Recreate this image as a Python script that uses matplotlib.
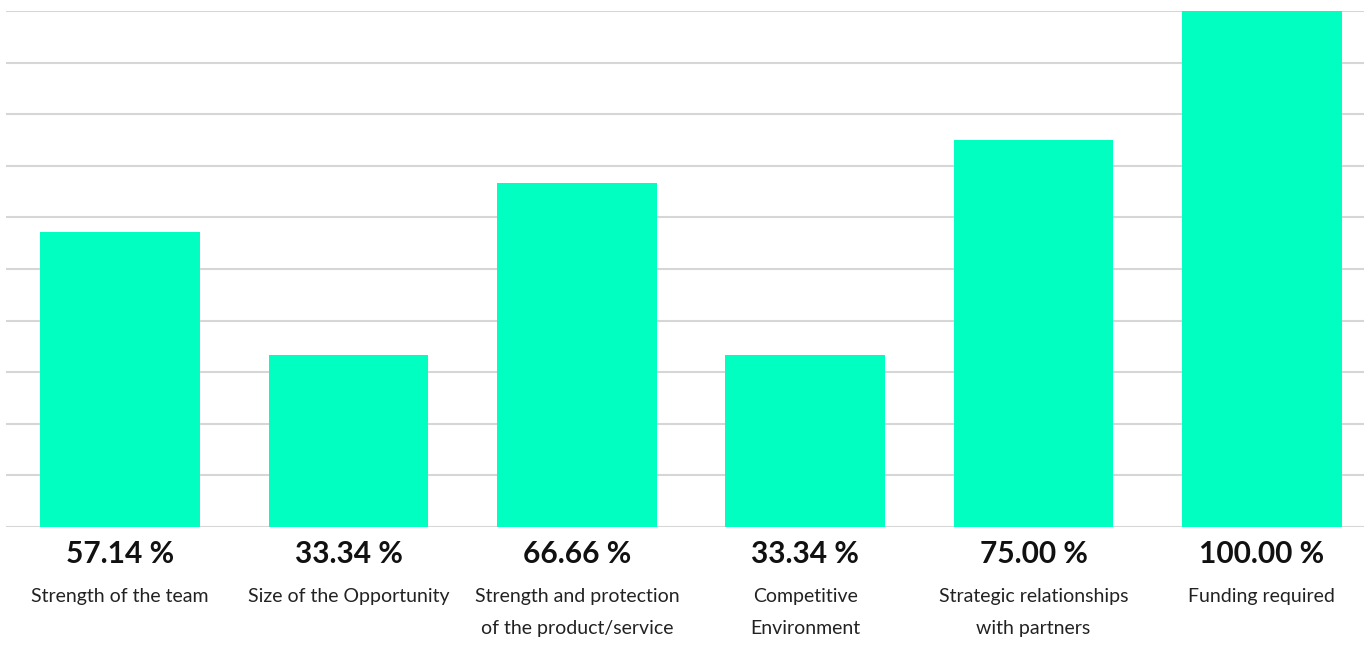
import matplotlib.pyplot as plt
import numpy as np

# data
categories = ['Strength of the team', 'Size of the Opportunity',
              'Strength and protection\nof the product/service',
              'Competitive\nEnvironment',
              'Strategic relationships\nwith partners', 'Funding required']
scores = [57.14, 33.34, 66.66, 33.34, 75.00, 100.00]

plt.rcParams['font.family'] = ['Lato', 'DejaVu Sans']

fig = plt.figure(figsize=(13.64, 6.61), dpi=100)
W, H = 1364, 661
ax = fig.add_axes([6 / W, 1 - 527 / H, (W - 6) / W, (527 - 11) / H])

x = np.arange(len(categories))
ax.bar(x, scores, width=0.70, color='#00FFC0', zorder=2)

ax.set_ylim(0, 100)
ax.set_xlim(-0.5, 5.447)
ax.set_yticks(np.arange(0, 101, 10))
ax.yaxis.grid(True, color='#d6d6d6', linewidth=1.5, zorder=0)
ax.set_xticks([])
ax.tick_params(left=False, labelleft=False)
for s in ax.spines.values():
    s.set_visible(False)

# value + category labels under each bar
for i, (c, v) in enumerate(zip(categories, scores)):
    ax.annotate(f'{v:.2f} %', (i, 0), xytext=(0, -27), textcoords='offset pixels',
                ha='center', va='center', fontsize=21.5, fontweight='bold',
                color='#111111', annotation_clip=False)
    ax.annotate(c, (i, 0), xytext=(0, -61), textcoords='offset pixels',
                ha='center', va='top', fontsize=14, color='#222222',
                linespacing=2.05, annotation_clip=False)

fig.savefig('out.png', dpi=100)
